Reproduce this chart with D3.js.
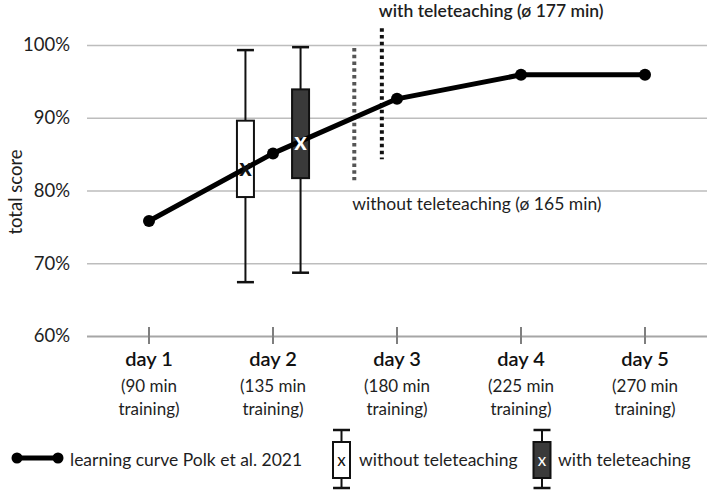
<!DOCTYPE html>
<html>
<head>
<meta charset="utf-8">
<script src="https://cdn.jsdelivr.net/npm/d3@7"></script>
<style>
  body { margin: 0; background: #fff; }
  text { font-family: Lato, "Open Sans", sans-serif; }
</style>
</head>
<body>
<script>
// learning curve (per day of training)
const days = ["day 1", "day 2", "day 3", "day 4", "day 5"];
const trainingMin = [90, 135, 180, 225, 270];
const curveScore = [0.758, 0.851, 0.926, 0.959, 0.959];
const yTicks = [0.6, 0.7, 0.8, 0.9, 1.0];

// box plots (x position in minutes of training)
const boxGroups = ["without teleteaching", "with teleteaching"];
const boxMin = [125, 145];
const boxLow = [0.674, 0.687];
const boxQ1 = [0.791, 0.817];
const boxQ3 = [0.896, 0.939];
const boxHigh = [0.993, 0.997];
const boxMean = [0.831, 0.868];

// average training time markers
const avgLabels = ["without teleteaching (ø 165 min)", "with teleteaching (ø 177 min)"];
const avgMin = [164.5, 174.5];
const avgFrom = [0.814, 0.843];
const avgTo = [0.996, 1.023];

const W = 708, H = 490;
const BOX_W = 17;
const TEXT = "#1e1e1e";
const FILLS = ["#ffffff", "#3a3a3a"];
const MEAN_COLORS = ["#111", "#fff"];
const AVG_COLORS = ["#555", "#111"];

const svg = d3.select("body").append("svg")
  .attr("width", W).attr("height", H)
  .attr("fill", TEXT);

const x = d3.scaleLinear().domain([67.5, 292.5]).range([87, 707]);
const y = d3.scaleLinear().domain([0.6, 1.0]).range([336, 45]);

// y axis with gridlines
const yAxis = svg.append("g")
  .attr("transform", "translate(87,0)")
  .call(d3.axisLeft(y).tickValues(yTicks).tickFormat(d3.format(".0%")).tickSize(-(707 - 87)).tickPadding(17));
yAxis.select(".domain").remove();
yAxis.selectAll(".tick line")
  .attr("stroke", d => d === 0.6 ? "#a6a6a6" : "#bdbdbd")
  .attr("stroke-width", d => d === 0.6 ? 2 : 1.5);
yAxis.selectAll(".tick text")
  .style("font-size", "18.5px")
  .attr("fill", TEXT);

svg.append("text")
  .attr("transform", "translate(15,192) rotate(-90)")
  .attr("text-anchor", "middle")
  .attr("dominant-baseline", "central")
  .style("font-size", "18.5px")
  .text("total score");

// x category ticks and labels
const xg = svg.append("g");
xg.selectAll("line").data(trainingMin).join("line")
  .attr("x1", d => x(d)).attr("x2", d => x(d))
  .attr("y1", y(0.6) - 9).attr("y2", y(0.6) + 8)
  .attr("stroke", "#7f7f7f").attr("stroke-width", 2);
xg.selectAll(".day").data(days).join("text")
  .attr("class", "day")
  .attr("x", (d, i) => x(trainingMin[i]))
  .attr("y", 358)
  .attr("text-anchor", "middle")
  .attr("dominant-baseline", "central")
  .style("font-size", "20px")
  .style("font-weight", "600")
  .attr("fill", "#111")
  .text(d => d);
xg.selectAll(".min").data(trainingMin).join("text")
  .attr("class", "min")
  .attr("x", d => x(d))
  .attr("y", 385)
  .attr("text-anchor", "middle")
  .attr("dominant-baseline", "central")
  .style("font-size", "17px")
  .text(d => `(${d} min`);
xg.selectAll(".tr").data(trainingMin).join("text")
  .attr("class", "tr")
  .attr("x", d => x(d))
  .attr("y", 408)
  .attr("text-anchor", "middle")
  .attr("dominant-baseline", "central")
  .style("font-size", "17px")
  .text("training)");

// average time markers
avgMin.forEach((m, i) => {
  svg.append("line")
    .attr("x1", x(m)).attr("x2", x(m))
    .attr("y1", y(avgTo[i])).attr("y2", y(avgFrom[i]))
    .attr("stroke", AVG_COLORS[i]).attr("stroke-width", 4)
    .attr("stroke-dasharray", "3.5,3.3");
});
svg.append("text")
  .attr("x", x(avgMin[0]) - 2).attr("y", 203)
  .attr("dominant-baseline", "central")
  .style("font-size", "17.5px")
  .text(avgLabels[0]);
svg.append("text")
  .attr("x", x(avgMin[1]) - 3).attr("y", 10)
  .attr("dominant-baseline", "central")
  .style("font-size", "17.5px")
  .style("font-weight", "600")
  .text(avgLabels[1]);

// box plots
function boxplot(g, cx, lo, q1, q3, hi, fill, w) {
  g.append("line")
    .attr("x1", cx).attr("x2", cx).attr("y1", hi).attr("y2", lo)
    .attr("stroke", "#111").attr("stroke-width", 2);
  [hi, lo].forEach(v => g.append("line")
    .attr("x1", cx - w / 2).attr("x2", cx + w / 2).attr("y1", v).attr("y2", v)
    .attr("stroke", "#111").attr("stroke-width", 2.5));
  g.append("rect")
    .attr("x", cx - w / 2).attr("y", q3)
    .attr("width", w).attr("height", q1 - q3)
    .attr("fill", fill).attr("stroke", "#111").attr("stroke-width", 2);
}
boxGroups.forEach((b, i) => {
  boxplot(svg.append("g"), x(boxMin[i]), y(boxLow[i]), y(boxQ1[i]), y(boxQ3[i]), y(boxHigh[i]), FILLS[i], BOX_W);
});

// learning curve
const pts = trainingMin.map((m, i) => [x(m), y(curveScore[i])]);
svg.append("path")
  .attr("d", d3.line()(pts))
  .attr("fill", "none").attr("stroke", "#000").attr("stroke-width", 5)
  .attr("stroke-linejoin", "round");
svg.selectAll(".pt").data(pts).join("circle")
  .attr("class", "pt")
  .attr("cx", d => d[0]).attr("cy", d => d[1]).attr("r", 6)
  .attr("fill", "#000");

// means
boxGroups.forEach((b, i) => {
  svg.append("text")
    .attr("x", x(boxMin[i])).attr("y", y(boxMean[i]) - 1)
    .attr("text-anchor", "middle")
    .attr("dominant-baseline", "central")
    .style("font-size", "24px").style("font-weight", "700")
    .attr("fill", MEAN_COLORS[i])
    .text("x");
});

// legend
const lg = svg.append("g");
lg.append("line").attr("x1", 17).attr("x2", 58).attr("y1", 458).attr("y2", 458)
  .attr("stroke", "#000").attr("stroke-width", 5);
[17, 58].forEach(cx => lg.append("circle").attr("cx", cx).attr("cy", 458).attr("r", 5.5).attr("fill", "#000"));
lg.append("text").attr("x", 70).attr("y", 459).attr("dominant-baseline", "central")
  .style("font-size", "17.5px").text("learning curve Polk et al. 2021");

const legX = [341.5, 542];
const legText = [359, 558];
boxGroups.forEach((b, i) => {
  boxplot(lg.append("g"), legX[i], 488, 478, 442, 430, FILLS[i], 17);
  lg.append("text").attr("x", legX[i]).attr("y", 459)
    .attr("text-anchor", "middle").attr("dominant-baseline", "central")
    .style("font-size", "17px").attr("fill", MEAN_COLORS[i]).text("x");
  lg.append("text").attr("x", legText[i]).attr("y", 459).attr("dominant-baseline", "central")
    .style("font-size", "17.5px").text(b);
});
</script>
</body>
</html>
